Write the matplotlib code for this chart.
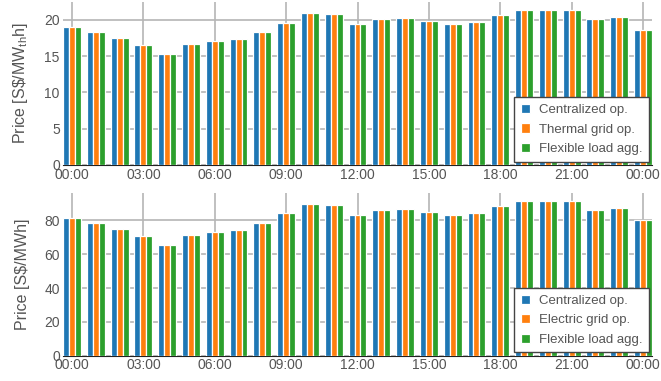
import numpy as np
import matplotlib
matplotlib.use("Agg")
import matplotlib.pyplot as plt

hours = list(range(25))
tick_pos = [0, 3, 6, 9, 12, 15, 18, 21, 24]
tick_labels = ["00:00", "03:00", "06:00", "09:00", "12:00", "15:00", "18:00", "21:00", "00:00"]

thermal_central = [19.03, 18.25, 17.47, 16.46, 15.31, 16.64, 17.10, 17.33, 18.30, 19.59, 20.87, 20.74,
                   19.40, 20.09, 20.18, 19.82, 19.40, 19.72, 20.64, 21.38, 21.38, 21.29, 20.09, 20.37, 18.62]
thermal_grid = [19.03, 18.25, 17.47, 16.46, 15.31, 16.64, 17.10, 17.33, 18.30, 19.59, 20.87, 20.74,
                19.40, 20.09, 20.18, 19.82, 19.40, 19.72, 20.64, 21.38, 21.38, 21.29, 20.09, 20.37, 18.62]
thermal_flex = [19.03, 18.25, 17.47, 16.46, 15.31, 16.64, 17.10, 17.33, 18.30, 19.59, 20.87, 20.74,
                19.40, 20.09, 20.18, 19.82, 19.40, 19.72, 20.64, 21.38, 21.38, 21.29, 20.09, 20.37, 18.62]

elec_central = [81.6, 78.4, 75.0, 70.5, 65.7, 71.3, 73.3, 74.3, 78.4, 84.2, 89.7, 88.9,
                83.4, 86.1, 86.5, 84.9, 83.4, 84.6, 88.5, 91.7, 91.7, 91.3, 86.1, 87.3, 80.0]
elec_grid = [81.6, 78.4, 75.0, 70.5, 65.7, 71.3, 73.3, 74.3, 78.4, 84.2, 89.7, 88.9,
             83.4, 86.1, 86.5, 84.9, 83.4, 84.6, 88.5, 91.7, 91.7, 91.3, 86.1, 87.3, 80.0]
elec_flex = [81.6, 78.4, 75.0, 70.5, 65.7, 71.3, 73.3, 74.3, 78.4, 84.2, 89.7, 88.9,
             83.4, 86.1, 86.5, 84.9, 83.4, 84.6, 88.5, 91.7, 91.7, 91.3, 86.1, 87.3, 80.0]

colors = ["#1f77b4", "#ff7f0e", "#2ca02c"]
plt.rcParams["font.family"] = ["Liberation Sans", "DejaVu Sans"]
plt.rcParams["mathtext.fontset"] = "custom"
plt.rcParams["mathtext.rm"] = "Liberation Sans"
plt.rcParams["mathtext.it"] = "Liberation Sans"

fig = plt.figure(figsize=(6.61, 3.81), dpi=100)
ax1 = fig.add_axes([0.0946, 0.567, 0.8925, 0.428])
ax2 = fig.add_axes([0.0946, 0.0664, 0.8925, 0.4276])

def draw(ax, series, labels, ylabel, yticks):
    x = np.array(hours, dtype=float)
    w = 0.25
    for i, (vals, lab) in enumerate(zip(series, labels)):
        ax.bar(x + (i - 1) * w, vals, width=w, color=colors[i], edgecolor="white",
               linewidth=0.9, label=lab, zorder=3)
    ax.set_xlim(-0.4, 24.4)
    ax.set_xticks(tick_pos)
    ax.set_xticklabels(tick_labels)
    ax.set_yticks(yticks)
    ax.set_axisbelow(True)
    ax.grid(True, color="#b5b5b5", linewidth=1.2)
    for s in ["top", "right", "left"]:
        ax.spines[s].set_visible(False)
    ax.spines["bottom"].set_color("#222222")
    ax.spines["bottom"].set_zorder(2)
    ax.tick_params(length=0, labelsize=10, labelcolor="#555555", pad=2)
    ax.set_ylabel(ylabel, fontsize=11.5, color="#555555", labelpad=10)
    leg = ax.legend(loc="lower right", fontsize=9.5, frameon=True, fancybox=False,
                    framealpha=1, edgecolor="#444444", handlelength=0.7, handleheight=0.7,
                    borderaxespad=0.25, borderpad=0.5, labelspacing=0.55,
                    handletextpad=0.7, labelcolor="#555555")
    leg.get_frame().set_linewidth(1.0)
    leg.set_zorder(5)

draw(ax1, [thermal_central, thermal_grid, thermal_flex],
     ["Centralized op.", "Thermal grid op.", "Flexible load agg."],
     "Price [S\\$/MW$_{\\mathrm{th}}$h]", [0, 5, 10, 15, 20])
draw(ax2, [elec_central, elec_grid, elec_flex],
     ["Centralized op.", "Electric grid op.", "Flexible load agg."],
     "Price [S\\$/MWh]", [0, 20, 40, 60, 80])

fig.savefig("out.png", dpi=100)
